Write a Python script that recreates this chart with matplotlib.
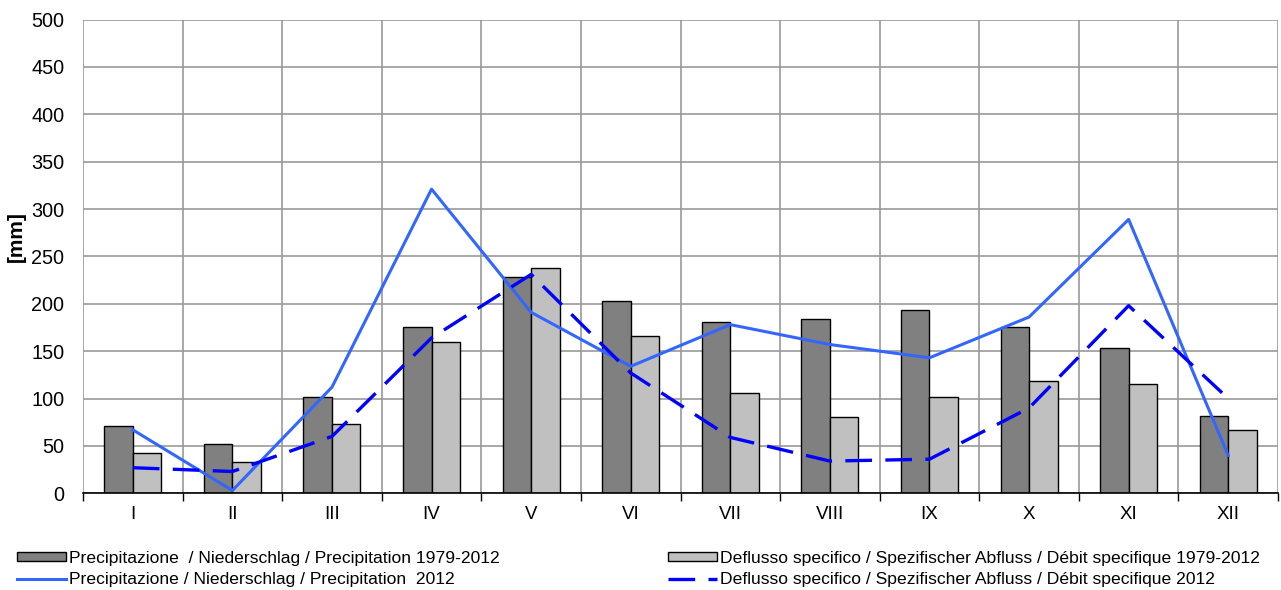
import matplotlib
matplotlib.use("Agg")
import matplotlib.pyplot as plt
import numpy as np
from matplotlib.lines import Line2D
from matplotlib.patches import Patch

months = ["I", "II", "III", "IV", "V", "VI", "VII", "VIII", "IX", "X", "XI", "XII"]
precip_mean = [71, 52, 102, 176, 228, 203, 181, 184, 193, 176, 153, 82]
runoff_mean = [43, 33, 73, 160, 238, 166, 106, 81, 102, 118, 115, 67]
precip_2012 = [67, 3, 112, 321, 191, 134, 178, 157, 143, 186, 289, 40]
runoff_2012 = [27, 23, 60, 164, 231, 127, 59, 34, 36, 90, 198, 100]

lab_pm = "Precipitazione  / Niederschlag / Precipitation 1979-2012"
lab_rm = "Deflusso specifico / Spezifischer Abfluss / Débit specifique 1979-2012"
lab_p12 = "Precipitazione / Niederschlag / Precipitation  2012"
lab_r12 = "Deflusso specifico / Spezifischer Abfluss / Débit specifique 2012"

plt.rcParams['font.family'] = ['Liberation Sans', 'DejaVu Sans']
FS_LEG = 12.6
FS_X = 13.5
FS_Y = 14.3

fig = plt.figure(figsize=(12.81, 5.90), dpi=100)
ax = fig.add_axes([83/1281, 1-493.3/590, (1278-83)/1281, (493.3-19.5)/590])

x = np.arange(1, 13)
w = 0.286
ax.bar(x - w/2, precip_mean, width=w, color="#808080", edgecolor="black", linewidth=1.0, zorder=3)
ax.bar(x + w/2, runoff_mean, width=w, color="#C0C0C0", edgecolor="black", linewidth=1.0, zorder=3)
ax.plot(x, precip_2012, color="#3366FF", linewidth=2.2, zorder=4)
ax.plot(x, runoff_2012, color="#0000FF", linewidth=2.4, dashes=(8, 4), zorder=4)

ax.set_xlim(0.5, 12.5)
ax.set_ylim(0, 500)
ax.set_yticks(np.arange(0, 501, 50))
ax.set_xticks(x)
ax.set_xticklabels(months)
ax.set_xticks(np.arange(0.5, 12.6, 1), minor=True)
ax.tick_params(axis='x', which='major', length=0, pad=9, labelsize=FS_X)
ax.tick_params(axis='x', which='minor', length=6, width=1, color='black', direction='out')
ax.tick_params(axis='y', length=0, pad=13.5, labelsize=FS_Y)

ax.grid(True, axis='y', color='#999999', linewidth=1.2, zorder=0)
ax.grid(True, axis='x', which='minor', color='#999999', linewidth=1.2, zorder=0)
ax.set_axisbelow(True)
for s in ['top', 'right', 'left']:
    ax.spines[s].set_visible(False)
ax.spines['bottom'].set_color('black')
ax.spines['bottom'].set_linewidth(1.2)
ax.spines['bottom'].set_zorder(5)

fig.text(16/1281, 1-237/590, "[mm]", rotation=90, fontsize=15, fontweight='bold', ha='center', va='center')

handles = [
    Patch(facecolor="#808080", edgecolor="black", linewidth=1.0),
    Line2D([], [], color="#3366FF", linewidth=2.2),
    Patch(facecolor="#C0C0C0", edgecolor="black", linewidth=1.0),
    Line2D([], [], color="#0000FF", linewidth=2.4, dashes=(8, 4)),
]
labels = [lab_pm, lab_p12, lab_rm, lab_r12]
fig.legend(handles, labels, loc='lower left', ncol=2, mode='expand',
           bbox_to_anchor=(17/1281, 3/590, (1260-17)/1281, 0.1),
           frameon=False, fontsize=FS_LEG, handlelength=2.8, handleheight=0.4,
           handletextpad=0.17, labelspacing=0.35, borderaxespad=0, borderpad=0)

fig.savefig("out.png", dpi=100)
